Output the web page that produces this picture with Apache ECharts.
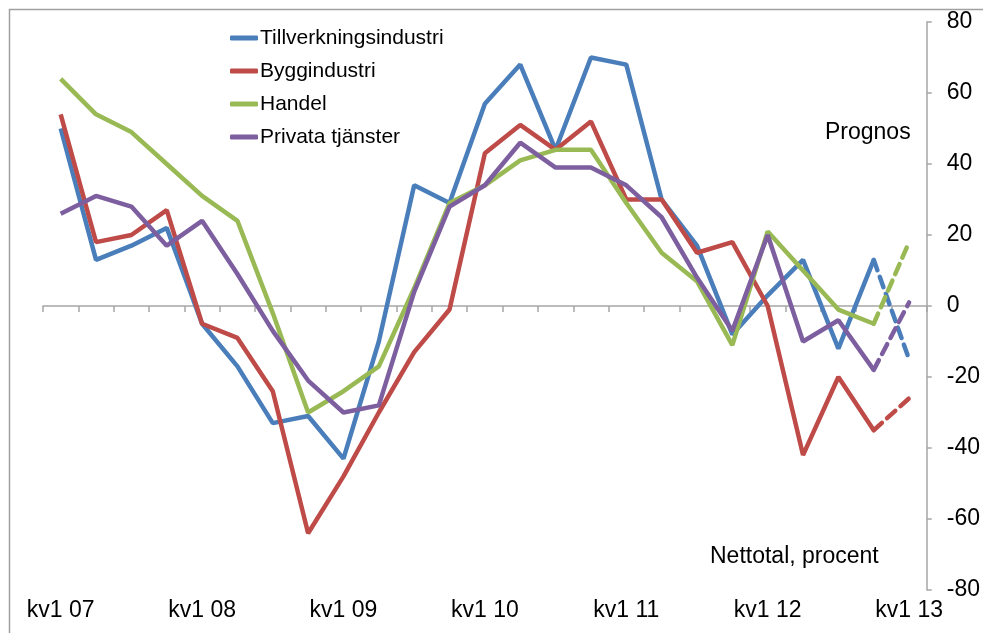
<!DOCTYPE html>
<html>
<head>
<meta charset="utf-8">
<script src="https://cdn.jsdelivr.net/npm/echarts@6/dist/echarts.min.js"></script>
<style>
  html, body { margin: 0; padding: 0; background: #fff; }
  #chart { width: 983px; height: 633px; }
</style>
</head>
<body>
<div id="chart"></div>
<script>
  var categories = [
    'kv1 07', 'kv2 07', 'kv3 07', 'kv4 07',
    'kv1 08', 'kv2 08', 'kv3 08', 'kv4 08',
    'kv1 09', 'kv2 09', 'kv3 09', 'kv4 09',
    'kv1 10', 'kv2 10', 'kv3 10', 'kv4 10',
    'kv1 11', 'kv2 11', 'kv3 11', 'kv4 11',
    'kv1 12', 'kv2 12', 'kv3 12', 'kv4 12',
    'kv1 13'
  ];
  var names = ['Tillverkningsindustri', 'Byggindustri', 'Handel', 'Privata tjänster'];
  var colors = ['#4a7ebb', '#be4b48', '#98b954', '#7d5fa0'];

  // utfall kv1 07 - kv4 12, prognos kv1 13 sist
  var tillverkning = [50, 13, 17, 22, -5, -17, -33, -31, -43, -10, 34, 29, 57, 68, 44, 70, 68, 30, 17, -8, 3, 13, -12, 13];
  var bygg = [54, 18, 20, 27, -5, -9, -24, -64, -48, -30, -13, -1, 43, 51, 44, 52, 30, 30, 15, 18, 0, -42, -20, -35];
  var handel = [64, 54, 49, 40, 31, 24, -2, -30, -24, -17, 5, 29, 34, 41, 44, 44, 29, 15, 7, -11, 21, 10, -1, -5];
  var privata = [26, 31, 28, 17, 24, 9, -7, -21, -30, -28, 4, 28, 34, 46, 39, 39, 34, 25, 8, -7, 20, -10, -4, -18];
  var prognos = [-15, -26, 18, 1];

  var yTicks = [-80, -60, -40, -20, 0, 20, 40, 60, 80];

  var font = '"Liberation Sans", Arial, sans-serif';
  var utfall = [tillverkning, bygg, handel, privata];

  var series = [];
  utfall.forEach(function (d, k) {
    series.push({
      name: names[k],
      type: 'line',
      data: d.concat([null]),
      symbol: 'none',
      lineStyle: { color: colors[k], width: 4.5 },
      itemStyle: { color: colors[k] },
      z: 3 + k
    });
    var dashed = categories.map(function () { return null; });
    dashed[d.length - 1] = d[d.length - 1];
    dashed[d.length] = prognos[k];
    series.push({
      name: names[k],
      type: 'line',
      data: dashed,
      symbol: 'none',
      lineStyle: { color: colors[k], width: 4.5, type: [11, 7], cap: 'round' },
      itemStyle: { color: colors[k] },
      z: 3 + k
    });
  });

  var myChart = echarts.init(document.getElementById('chart'));
  myChart.setOption({
    animation: false,
    backgroundColor: '#fff',
    textStyle: { fontFamily: font },
    grid: { left: 43, right: 56, top: 22, bottom: 43 },
    legend: {
      data: names,
      orient: 'vertical',
      left: 230,
      top: 27,
      padding: 0,
      itemWidth: 28,
      itemHeight: 5,
      itemGap: 11,
      icon: 'roundRect',
      textStyle: { fontSize: 21, color: '#000', fontFamily: font, padding: [0, 0, 0, -3], lineHeight: 22 }
    },
    xAxis: [
      {
        type: 'category',
        data: categories,
        boundaryGap: true,
        axisLine: { onZero: true, lineStyle: { color: '#a6a6a6', width: 1.5 } },
        axisTick: { show: true, interval: 0, length: 6, lineStyle: { color: '#a6a6a6', width: 1.5 } },
        axisLabel: { show: false },
        splitLine: { show: false }
      },
      {
        type: 'category',
        data: categories,
        position: 'bottom',
        boundaryGap: true,
        axisLine: { show: false, onZero: false },
        axisTick: { show: false },
        axisLabel: { interval: 3, margin: 9, fontSize: 23, color: '#000', fontFamily: font },
        splitLine: { show: false }
      }
    ],
    yAxis: {
      type: 'value',
      position: 'right',
      min: yTicks[0],
      max: yTicks[yTicks.length - 1],
      interval: 20,
      axisLine: { show: true, lineStyle: { color: '#a6a6a6', width: 1.5 } },
      axisTick: { show: true, length: 5, lineStyle: { color: '#a6a6a6', width: 1.5 } },
      axisLabel: { margin: 20, fontSize: 23, color: '#000', fontFamily: font },
      splitLine: { show: false }
    },
    graphic: [
      {
        type: 'polyline',
        shape: { points: [[9.5, 640], [9.5, 9.5], [990, 9.5]] },
        style: { stroke: '#a0a0a0', lineWidth: 1.5, fill: null },
        silent: true
      },
      {
        type: 'text',
        left: 825,
        top: 121,
        style: { text: 'Prognos', fontSize: 23, fill: '#000', fontFamily: font }
      },
      {
        type: 'text',
        left: 710,
        top: 545,
        style: { text: 'Nettotal, procent', fontSize: 23, fill: '#000', fontFamily: font }
      }
    ],
    series: series
  });
</script>
</body>
</html>
